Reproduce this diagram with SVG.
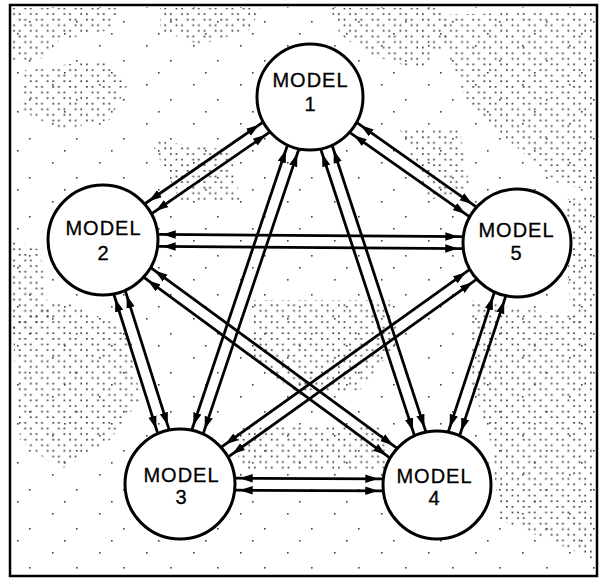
<svg xmlns="http://www.w3.org/2000/svg" width="600" height="578" viewBox="0 0 600 578">
<style>
.frame{fill:#fff;stroke:#000;stroke-width:2.5}
.node circle{fill:#fff;stroke:#000;stroke-width:3}
.node text{font-family:"Liberation Sans",Arial,sans-serif;font-size:20px;text-anchor:middle;fill:#000;letter-spacing:1px;stroke:#000;stroke-width:0.3}
.conn line{stroke:#000;stroke-width:2.8;marker-start:url(#ah);marker-end:url(#ah)}
.dots{fill:url(#dots)}
.sparse{fill:url(#sparse)}
</style>
<defs>
<pattern id="dots" width="16.8" height="16.8" patternUnits="userSpaceOnUse">
<g fill="#3a3a3a">
<rect x="2" y="2" width="1.7" height="1.7"/>
<rect x="7.6" y="2" width="1.7" height="1.7"/>
<rect x="7.6" y="7.6" width="1.7" height="1.7"/>
<rect x="13.2" y="7.6" width="1.7" height="1.7"/>
<rect x="2" y="13.2" width="1.7" height="1.7"/>
<rect x="13.2" y="13.2" width="1.7" height="1.7"/>
</g>
</pattern>
<pattern id="sparse" width="47" height="39" patternUnits="userSpaceOnUse">
<g fill="#444">
<rect x="5" y="6" width="1.6" height="1.6"/>
<rect x="29" y="21" width="1.6" height="1.6"/>
<rect x="17" y="33" width="1.6" height="1.6"/>
</g>
</pattern>
<marker id="ah" markerUnits="userSpaceOnUse" markerWidth="22" markerHeight="12" viewBox="0 0 22 12" refX="18" refY="6" orient="auto-start-reverse">
<path d="M0,1.8 L13,6 L0,10.2 z" fill="#000"/>
</marker>
</defs>
<rect class="frame" x="10" y="5" width="587" height="571"/>
<g id="texture">
<rect class="sparse" x="12" y="7" width="584" height="568"/>
<path class="dots" d="M12,8 L120,8 L110,30 L60,40 L40,60 L12,60 Z"/>
<path class="dots" d="M25,70 L100,60 L130,80 L110,120 L60,130 L20,110 Z"/>
<path class="dots" d="M160,8 L260,8 L250,30 L200,45 L160,30 Z"/>
<path class="dots" d="M330,8 L440,8 L450,40 L420,70 L370,55 L340,35 Z"/>
<path class="dots" d="M440,15 L595,10 L595,190 L560,185 L520,150 L470,110 L450,60 Z"/>
<path class="dots" d="M565,200 L595,195 L595,330 L570,320 Z"/>
<path class="dots" d="M250,300 L390,300 L400,340 L360,390 L300,395 L250,360 Z"/>
<path class="dots" d="M470,300 L595,320 L595,560 L560,545 L500,520 L490,440 L470,380 Z"/>
<path class="dots" d="M12,320 L60,300 L130,330 L140,400 L110,440 L60,470 L20,440 Z"/>
<path class="dots" d="M235,428 L380,425 L390,470 L240,470 Z"/>
<path class="dots" d="M12,240 L40,250 L50,320 L12,330 Z"/>
<path class="dots" d="M400,130 L460,130 L470,190 L430,200 Z"/>
<path class="dots" d="M150,140 L230,150 L240,200 L180,200 Z"/>
</g>
<g id="connectors" class="conn">
<g transform="translate(310,97) rotate(145.36)"><line x1="52.7" y1="-6" x2="196.9" y2="-6"/><line x1="52.7" y1="6" x2="196.9" y2="6"/></g>
<g transform="translate(310,97) rotate(35.19)"><line x1="52.7" y1="-6" x2="199.6" y2="-6"/><line x1="52.7" y1="6" x2="199.6" y2="6"/></g>
<g transform="translate(310,97) rotate(108.57)"><line x1="52.7" y1="-6" x2="353.6" y2="-6"/><line x1="52.7" y1="6" x2="353.6" y2="6"/></g>
<g transform="translate(310,97) rotate(71.88)"><line x1="52.7" y1="-6" x2="354.6" y2="-6"/><line x1="52.7" y1="6" x2="354.6" y2="6"/></g>
<g transform="translate(103,240) rotate(0.415)"><line x1="54.7" y1="-6" x2="360.3" y2="-6"/><line x1="54.7" y1="6" x2="360.3" y2="6"/></g>
<g transform="translate(103,240) rotate(72.49)"><line x1="54.7" y1="-6" x2="201.2" y2="-6"/><line x1="54.7" y1="6" x2="201.2" y2="6"/></g>
<g transform="translate(103,240) rotate(36.26)"><line x1="54.7" y1="-6" x2="360.5" y2="-6"/><line x1="54.7" y1="6" x2="360.5" y2="6"/></g>
<g transform="translate(517,243) rotate(144.43)"><line x1="53.7" y1="-6" x2="359.6" y2="-6"/><line x1="53.7" y1="6" x2="359.6" y2="6"/></g>
<g transform="translate(517,243) rotate(108.29)"><line x1="53.7" y1="-6" x2="201.2" y2="-6"/><line x1="53.7" y1="6" x2="201.2" y2="6"/></g>
<g transform="translate(180,484) rotate(0.22)"><line x1="54.7" y1="-6" x2="203.3" y2="-6"/><line x1="54.7" y1="6" x2="203.3" y2="6"/></g>
</g>
<g id="model1" class="node"><circle cx="310" cy="97" r="53"/><text x="310.5" y="87">MODEL</text><text x="310.5" y="111">1</text></g>
<g id="model2" class="node"><circle cx="103" cy="240" r="55"/><text x="103.5" y="235">MODEL</text><text x="103.5" y="260">2</text></g>
<g id="model5" class="node"><circle cx="517" cy="243" r="54"/><text x="516.5" y="237">MODEL</text><text x="516.5" y="260">5</text></g>
<g id="model3" class="node"><circle cx="180" cy="484" r="55"/><text x="181.5" y="482">MODEL</text><text x="181.5" y="504">3</text></g>
<g id="model4" class="node"><circle cx="437" cy="485" r="54"/><text x="434.5" y="483">MODEL</text><text x="434.5" y="505">4</text></g>
</svg>
